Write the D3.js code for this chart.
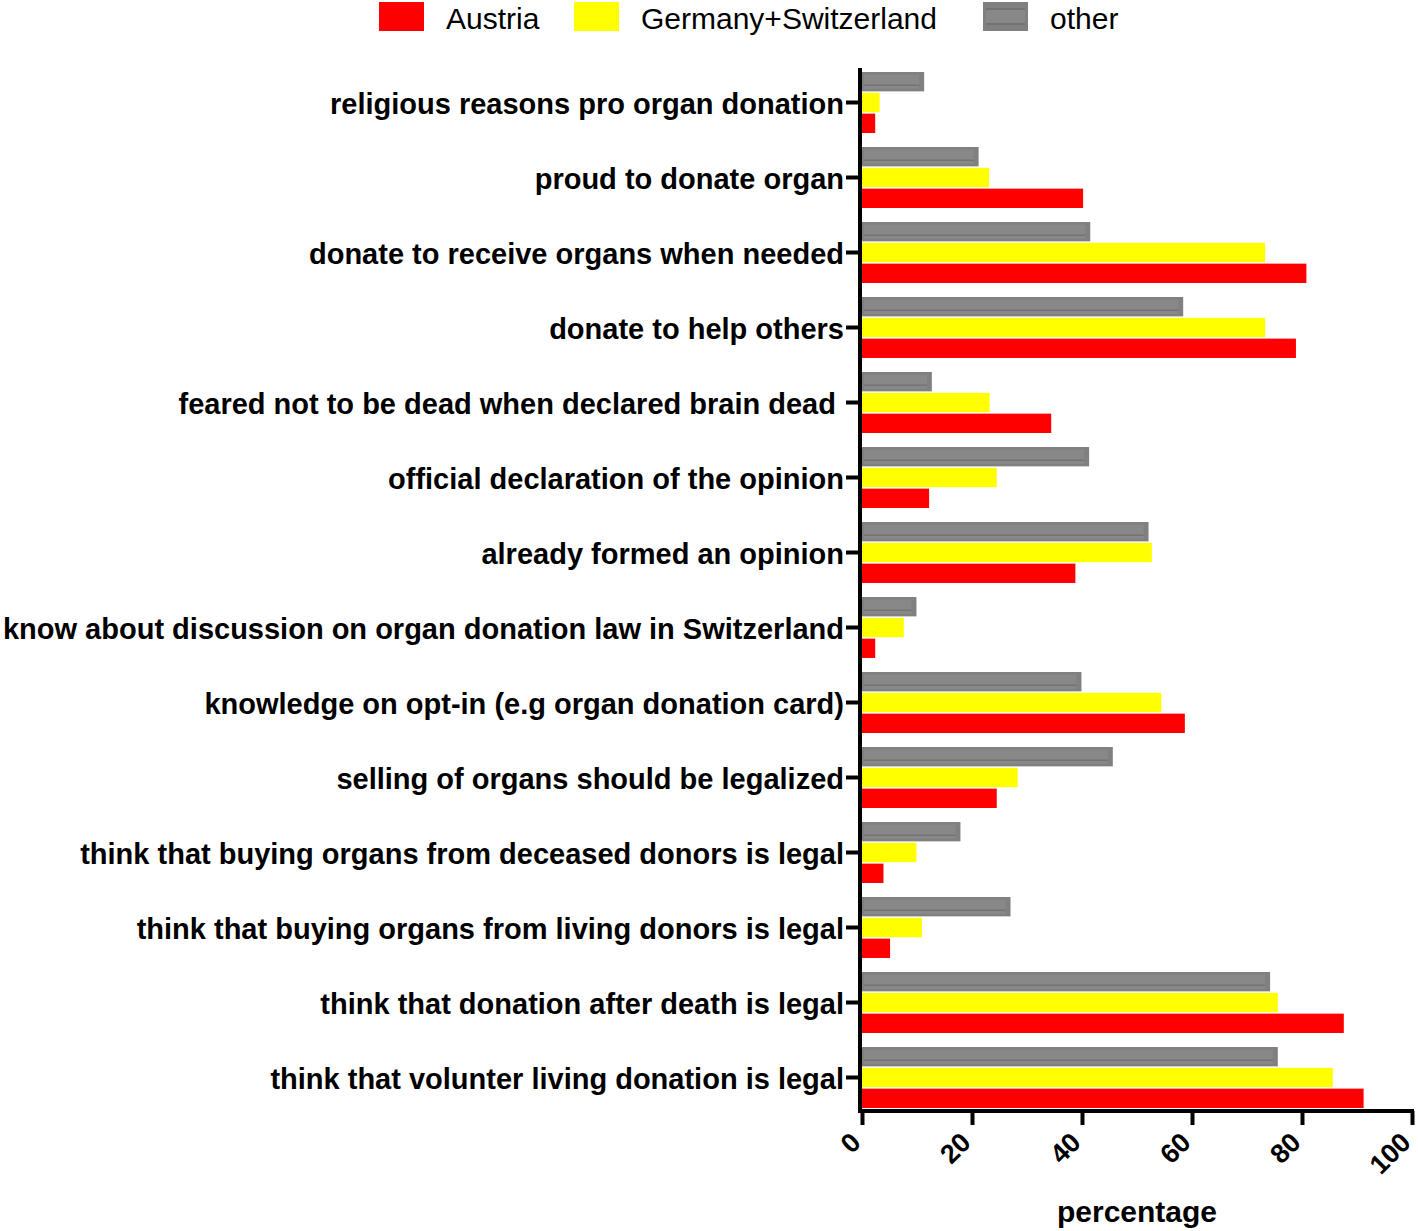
<!DOCTYPE html>
<html>
<head>
<meta charset="utf-8">
<script src="https://cdn.jsdelivr.net/npm/d3@7"></script>
<style>
  html, body { margin: 0; padding: 0; background: #fff; }
  svg { display: block; }
</style>
</head>
<body>
<svg id="chart" width="1418" height="1231"></svg>
<script>
const categories = [
  "religious reasons pro organ donation",
  "proud to donate organ",
  "donate to receive organs when needed",
  "donate to help others",
  "feared not to be dead when declared brain dead ",
  "official declaration of the opinion",
  "already formed an opinion",
  "know about discussion on organ donation law in Switzerland",
  "knowledge on opt-in (e.g organ donation card)",
  "selling of organs should be legalized",
  "think that buying organs from deceased donors is legal",
  "think that buying organs from living donors is legal",
  "think that donation after death is legal",
  "think that volunter living donation is legal"
];
const austria = [2.4, 40.2, 80.8, 78.9, 34.4, 12.2, 38.8, 2.4, 58.7, 24.5, 3.9, 5.1, 87.6, 91.2];
const germanySwitzerland = [3.2, 23.1, 73.3, 73.3, 23.2, 24.5, 52.7, 7.6, 54.4, 28.3, 9.9, 10.9, 75.6, 85.6];
const other = [11.3, 21.2, 41.5, 58.4, 12.7, 41.3, 52.1, 9.9, 39.9, 45.6, 17.9, 27.0, 74.2, 75.6];
const seriesNames = ["Austria", "Germany+Switzerland", "other"];
const xTicks = [0, 20, 40, 60, 80, 100];
const xTitle = "percentage";

const colors = { "Austria": "#ff0000", "Germany+Switzerland": "#ffff00", "other": "#808080" };
const seriesData = { "Austria": austria, "Germany+Switzerland": germanySwitzerland, "other": other };
const FONT = "'Liberation Sans', Arial, Helvetica, sans-serif";

const svg = d3.select("#chart");
const x = d3.scaleLinear().domain([0, 100]).range([862, 1412]);
const y = d3.scaleBand().domain(categories).range([65, 1115]).paddingInner(0.187).paddingOuter(0.0935);
const inner = d3.scaleBand().domain(["other", "Germany+Switzerland", "Austria"]).range([0, y.bandwidth()]).paddingInner(0.07);

const rows = categories.map((c, i) => ({ c, i }));

["other", "Germany+Switzerland", "Austria"].forEach(s => {
  const g = svg.append("g").attr("class", "series-" + s.replace(/\W/g, ""));
  g.selectAll("rect.bar").data(rows).join("rect")
    .attr("class", "bar")
    .attr("x", x(0))
    .attr("y", d => y(d.c) + inner(s))
    .attr("width", d => x(seriesData[s][d.i]) - x(0))
    .attr("height", inner.bandwidth())
    .attr("fill", colors[s]);
  if (s === "other") {
    g.selectAll("rect.innerfill").data(rows).join("rect")
      .attr("class", "innerfill")
      .attr("x", x(0) + 2)
      .attr("y", d => y(d.c) + inner(s) + 2.5)
      .attr("width", d => Math.max(0, x(seriesData[s][d.i]) - x(0) - 7))
      .attr("height", inner.bandwidth() - 5)
      .attr("fill", "#888888");
    g.selectAll("line.hatch").data(rows).join("line")
      .attr("class", "hatch")
      .attr("x1", x(0) + 2)
      .attr("x2", d => Math.max(x(0) + 2, x(seriesData[s][d.i]) - 5))
      .attr("y1", d => y(d.c) + inner(s) + inner.bandwidth() * 0.68)
      .attr("y2", d => y(d.c) + inner(s) + inner.bandwidth() * 0.68)
      .attr("stroke", "#737373")
      .attr("stroke-width", 1.5);
  }
});

// y axis
const yAxis = d3.axisLeft(y).tickSize(14).tickPadding(2).tickSizeOuter(0);
const gy = svg.append("g").attr("transform", `translate(${x(0) - 2},0)`).call(yAxis);
gy.select(".domain").remove();
gy.selectAll(".tick line").attr("stroke", "#000").attr("stroke-width", 4);
gy.selectAll(".tick text")
  .attr("fill", "#000")
  .attr("font-family", FONT)
  .attr("font-weight", "bold")
  .attr("font-size", "29px")
  .attr("dy", "0.4em")
  .style("white-space", "pre");

// x axis
const xAxis = d3.axisBottom(x).tickValues(xTicks).tickSize(14).tickSizeOuter(0).tickFormat(d3.format("d"));
const gx = svg.append("g").attr("transform", `translate(0,${1111})`).call(xAxis);
gx.select(".domain").remove();
gx.selectAll(".tick line").attr("stroke", "#000").attr("stroke-width", 4);
gx.selectAll(".tick text")
  .attr("fill", "#000")
  .attr("font-family", FONT)
  .attr("font-weight", "bold")
  .attr("font-size", "27px")
  .attr("text-anchor", "end")
  .attr("dy", null)
  .attr("y", null)
  .attr("transform", "translate(0,33) rotate(-45)");

// axis lines
svg.append("line").attr("x1", x(0) - 2).attr("x2", x(0) - 2).attr("y1", 68).attr("y2", 1113)
  .attr("stroke", "#000").attr("stroke-width", 4);
svg.append("line").attr("x1", x(0) - 4).attr("x2", x(100) + 2).attr("y1", 1111).attr("y2", 1111)
  .attr("stroke", "#000").attr("stroke-width", 4);

// x title
svg.append("text").attr("x", 1137).attr("y", 1222).attr("text-anchor", "middle")
  .attr("font-family", FONT)
  .attr("font-weight", "bold").attr("font-size", "30px").attr("fill", "#000")
  .text(xTitle);

// legend
const legendX = [379, 574, 983];
const lg = svg.append("g");
seriesNames.forEach((s, i) => {
  const item = lg.append("g").attr("transform", `translate(${legendX[i]},2)`);
  item.append("rect").attr("width", 45).attr("height", 29).attr("fill", colors[s]);
  if (s === "other") {
    item.append("rect").attr("x", 3).attr("y", 6).attr("width", 39).attr("height", 17).attr("fill", "#888");
    item.append("line").attr("x1", 3).attr("x2", 42).attr("y1", 7).attr("y2", 7).attr("stroke", "#737373").attr("stroke-width", 2);
    item.append("line").attr("x1", 3).attr("x2", 42).attr("y1", 22).attr("y2", 22).attr("stroke", "#737373").attr("stroke-width", 2);
  }
  item.append("text").attr("x", 67).attr("y", 27)
    .attr("font-family", FONT)
    .attr("font-size", "30px").attr("fill", "#000")
    .text(s);
});
</script>
</body>
</html>
